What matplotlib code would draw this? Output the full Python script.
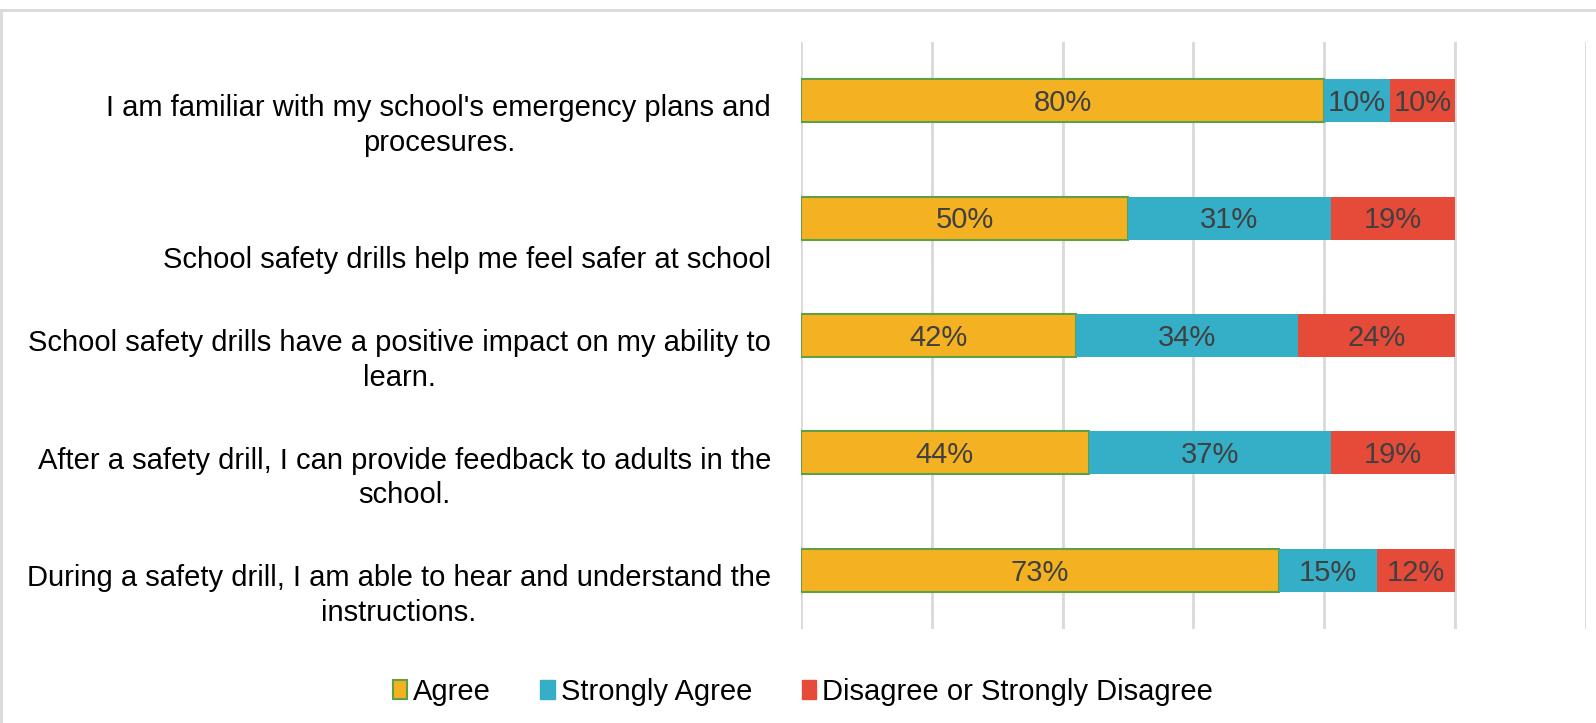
import matplotlib
matplotlib.use("Agg")
import matplotlib.pyplot as plt
import numpy as np
from matplotlib.patches import Patch
from matplotlib.lines import Line2D
from matplotlib.transforms import blended_transform_factory

plt.rcParams['font.family'] = ['Liberation Sans', 'DejaVu Sans']

statements = [
    "I am familiar with my school's emergency plans and\nprocesures.",
    "School safety drills help me feel safer at school",
    "School safety drills have a positive impact on my ability to\nlearn.",
    "After a safety drill, I can provide feedback to adults in the\nschool.",
    "During a safety drill, I am able to hear and understand the\ninstructions.",
]
agree = [80, 50, 42, 44, 73]
strongly_agree = [10, 31, 34, 37, 15]
disagree = [10, 19, 24, 19, 12]
series_names = ["Agree", "Strongly Agree", "Disagree or Strongly Disagree"]
colors = ["#F4B223", "#35AEC8", "#E54B38"]
x_ticks = [0, 20, 40, 60, 80, 100, 120]

text_color = "#404040"
grid_color = "#D9D9D9"
fs = 21

fig = plt.figure(figsize=(15.96, 7.23), dpi=100)
ax = fig.add_axes([801 / 1596, 1 - 629 / 723, 785 / 1596, 587 / 723])

y = np.arange(len(statements))
h = 0.366
left = np.zeros(len(statements))
for vals, col, name in zip([agree, strongly_agree, disagree], colors, series_names):
    vals = np.array(vals, dtype=float)
    if name == "Agree":
        bars = ax.barh(y, vals, left=left, height=h, color=col,
                       edgecolor="#5FA046", linewidth=1.5, zorder=3)
    else:
        bars = ax.barh(y, vals, left=left, height=h, color=col,
                       linewidth=0, zorder=3)
    for b, v in zip(bars, vals):
        ax.text(b.get_x() + b.get_width() / 2, b.get_y() + b.get_height() / 2 + 0.02,
                f"{v:.0f}%", ha="center", va="center", color=text_color,
                fontsize=fs, zorder=4)
    left += vals

ax.set_xlim(0, 120)
ax.set_ylim(len(statements) - 0.5, -0.5)
ax.set_xticks(x_ticks)
ax.set_yticks([])
ax.tick_params(axis="x", length=0, labelbottom=False)
ax.grid(axis="x", color=grid_color, linewidth=2, zorder=0)
for s in ax.spines.values():
    s.set_visible(False)

# category labels sit below the bar centre, bottom aligned like the source
trans = blended_transform_factory(ax.transAxes, ax.transData)
for i, lab in enumerate(statements):
    ax.text(-0.038, i + 0.48, lab, transform=trans, ha="right", va="bottom",
            multialignment="center", fontsize=fs, color="black",
            linespacing=1.3)

handles = [
    Patch(facecolor=colors[0], edgecolor="#5FA046", linewidth=1.5),
    Patch(facecolor=colors[1], edgecolor=colors[1]),
    Patch(facecolor=colors[2], edgecolor=colors[2]),
]
fig.legend(handles, series_names, loc="center", bbox_to_anchor=(0.503, 0.043),
           ncol=3, frameon=False, fontsize=fs, handlelength=0.5,
           handleheight=0.65, handletextpad=0.2, columnspacing=1.7)

# chart border (only top and left visible)
fig.add_artist(Line2D([1 / 1596, 1.0], [1 - 10 / 723, 1 - 10 / 723],
                      transform=fig.transFigure, color=grid_color, linewidth=2))
fig.add_artist(Line2D([1 / 1596, 1 / 1596], [0, 1 - 10 / 723],
                      transform=fig.transFigure, color=grid_color, linewidth=2))

fig.savefig("out.png", dpi=100)
